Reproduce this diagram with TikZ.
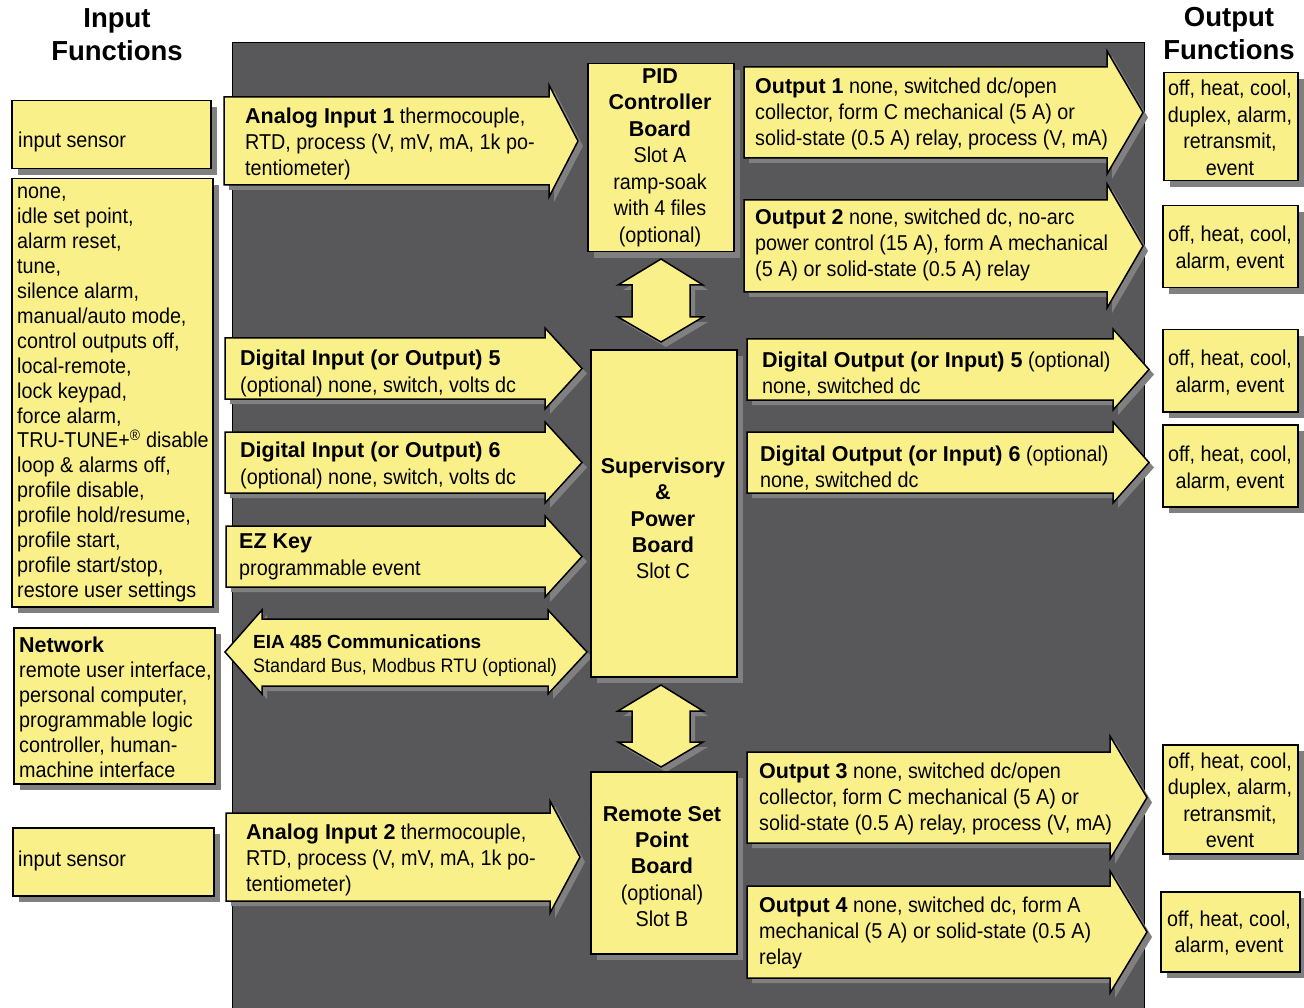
\documentclass[tikz,border=0pt]{standalone}
\usepackage{fontspec}
\setmainfont{Liberation Sans}
\newfontfamily\nar{Liberation Sans}[FakeStretch=0.92]
\usetikzlibrary{shadows}
\definecolor{yel}{RGB}{250,240,138}
\definecolor{panel}{RGB}{88,88,90}
\definecolor{shd}{RGB}{128,128,128}
\newcommand\bb[1]{{\normalfont\bfseries #1}}
\tikzset{
  box/.style={draw=black, fill=yel, line width=1.5pt, inner sep=0, anchor=north west,
    drop shadow={shadow xshift=6pt, shadow yshift=-6pt, fill=shd, opacity=1}},
  yshape/.style={draw=black, fill=yel, line width=1.5pt, line join=miter},
  lt/.style={inner sep=0, anchor=west, align=left, yshift=-2pt, font=\nar\fontsize{21.5}{26}\selectfont},
  ct/.style={inner sep=0, anchor=center, align=center, yshift=-2pt, font=\nar\fontsize{21.5}{26.5}\selectfont},
  hd/.style={inner sep=0, anchor=center, align=center, font=\bfseries\fontsize{27.5}{33}\selectfont}
}
% right arrow: left, top, bottom, base, ext, tip
\newcommand\RArr[6]{%
  \fill[shd, shift={(5,5)}] (#1,#2) -- (#4,#2) -- (#4,{#2-#5}) -- (#6,{(#2+#3)/2}) -- (#4,{#3+#5}) -- (#4,#3) -- (#1,#3) -- cycle;
  \filldraw[yshape] (#1,#2) -- (#4,#2) -- (#4,{#2-#5}) -- (#6,{(#2+#3)/2}) -- (#4,{#3+#5}) -- (#4,#3) -- (#1,#3) -- cycle;
}
% vertical double arrow: cx, toptip, base1, base2, bottomtip
\newcommand\VArr[5]{%
  \fill[shd, shift={(5,5)}] (#1,#2) -- ({#1+42},#3) -- ({#1+29},#3) -- ({#1+29},#4) -- ({#1+42},#4) -- (#1,#5) -- ({#1-43},#4) -- ({#1-29},#4) -- ({#1-29},#3) -- ({#1-43},#3) -- cycle;
  \filldraw[yshape] (#1,#2) -- ({#1+42},#3) -- ({#1+29},#3) -- ({#1+29},#4) -- ({#1+42},#4) -- (#1,#5) -- ({#1-43},#4) -- ({#1-29},#4) -- ({#1-29},#3) -- ({#1-43},#3) -- cycle;
}
\begin{document}
\begin{tikzpicture}[x=1pt, y=-1pt]
\useasboundingbox (0,0) rectangle (1304,1008);
\fill[white] (0,0) rectangle (1304,1008);

% headers
\node[hd] (hin) at (117,35) {Input\\Functions};
\node[hd] (hout) at (1229,34) {Output\\Functions};

% dark panel
\filldraw[fill=panel, draw=black, line width=1pt] (232,43) rectangle (1144,1015);

% left boxes
\node[box, minimum width=199, minimum height=68] (bin1) at (11,100) {};
\node[lt] (tin1) at (18,140) {input sensor};
\node[box, minimum width=201, minimum height=428] (blist) at (11,178) {};
\node[lt, font=\nar\fontsize{21.5}{24.95}\selectfont] (tlist) at (17,392.5) {none,\\idle set point,\\alarm reset,\\tune,\\silence alarm,\\manual/auto mode,\\control outputs off,\\local-remote,\\lock keypad,\\force alarm,\\TRU-TUNE+\textsuperscript{\textregistered} disable\\loop \& alarms off,\\profile disable,\\profile hold/resume,\\profile start,\\profile start/stop,\\restore user settings};
\node[box, minimum width=201, minimum height=156] (bnet) at (13,627) {};
\node[lt, font=\nar\fontsize{21.5}{25}\selectfont] (tnet) at (19,705.5) {\bb{Network}\\remote user interface,\\personal computer,\\programmable logic\\controller, human-\\machine interface};
\node[box, minimum width=201, minimum height=68] (bin2) at (12,827) {};
\node[lt] (tin2) at (18,859) {input sensor};

% left arrows
\RArr{224}{97}{185}{549}{12}{578}
\node[lt] (tai1) at (245,142) {\bb{Analog Input 1} thermocouple,\\RTD, process (V, mV, mA, 1k po-\\tentiometer)};
\RArr{225}{338}{399}{545}{10}{582}
\node[lt, font=\nar\fontsize{21.5}{27}\selectfont] (tdi5) at (240,371.5) {\bb{Digital Input (or Output) 5}\\(optional) none, switch, volts dc};
\RArr{225}{432}{493}{545}{10}{582}
\node[lt, font=\nar\fontsize{21.5}{27}\selectfont] (tdi6) at (240,463) {\bb{Digital Input (or Output) 6}\\(optional) none, switch, volts dc};
\RArr{226}{526}{587}{545}{10}{582}
\node[lt, font=\nar\fontsize{21.5}{27}\selectfont] (tez) at (239,555) {\bb{EZ Key}\\programmable event};
% EIA double arrow
\fill[shd, shift={(5,5)}] (225,652) -- (262,610) -- (262,619) -- (548,619) -- (548,610) -- (587,652) -- (548,694) -- (548,686) -- (262,686) -- (262,694) -- cycle;
\filldraw[yshape] (225,652) -- (262,610) -- (262,619) -- (548,619) -- (548,610) -- (587,652) -- (548,694) -- (548,686) -- (262,686) -- (262,694) -- cycle;
\node[lt, font=\nar\fontsize{19.5}{24}\selectfont] (teia) at (253,654) {{\fontsize{19}{24}\selectfont\bb{EIA 485 Communications}}\\Standard Bus, Modbus RTU (optional)};
\RArr{226}{813}{901}{550}{12}{580}
\node[lt] (tai2) at (246,858) {\bb{Analog Input 2} thermocouple,\\RTD, process (V, mV, mA, 1k po-\\tentiometer)};

% center boards
\node[box, minimum width=146, minimum height=188] (bpid) at (587,63) {};
\node[ct] (tpid) at (660,155.5) {\bb{PID}\\\bb{Controller}\\\bb{Board}\\Slot A\\ramp-soak\\with 4 files\\(optional)};
\VArr{661}{259}{285}{317}{342}
\node[box, minimum width=146, minimum height=327] (bsup) at (590,349) {};
\node[ct, font=\nar\fontsize{21.5}{26.25}\selectfont] (tsup) at (663,516.5) {\bb{Supervisory}\\\bb{\&}\\\bb{Power}\\\bb{Board}\\Slot C};
\VArr{661}{685}{711}{742}{767}
\node[box, minimum width=146, minimum height=182] (brsp) at (590,771) {};
\node[ct, font=\nar\fontsize{21.5}{26.25}\selectfont] (trsp) at (662,864.5) {\bb{Remote Set}\\\bb{Point}\\\bb{Board}\\(optional)\\Slot B};

% right arrows
\RArr{744}{67}{158}{1107}{16}{1143}
\node[lt] (to1) at (755,112) {\bb{Output 1} none, switched dc/open\\collector, form C mechanical (5 A) or\\solid-state (0.5 A) relay, process (V, mA)};
\RArr{744}{200}{292}{1107}{16}{1143}
\node[lt] (to2) at (755,243) {\bb{Output 2} none, switched dc, no-arc\\power control (15 A), form A mechanical\\(5 A) or solid-state (0.5 A) relay};
\RArr{747}{339}{400}{1113}{10}{1149}
\node[lt] (tdo5) at (762,372.5) {\bb{Digital Output (or Input) 5} (optional)\\none, switched dc};
\RArr{747}{432}{493}{1113}{10}{1149}
\node[lt] (tdo6) at (760,466) {\bb{Digital Output (or Input) 6} (optional)\\none, switched dc};
\RArr{747}{752}{843}{1110}{16}{1147}
\node[lt] (to3) at (759,797) {\bb{Output 3} none, switched dc/open\\collector, form C mechanical (5 A) or\\solid-state (0.5 A) relay, process (V, mA)};
\RArr{747}{886}{978}{1110}{15}{1147}
\node[lt] (to4) at (759,931) {\bb{Output 4} none, switched dc, form A\\mechanical (5 A) or solid-state (0.5 A)\\relay};

% right boxes
\node[box, minimum width=134, minimum height=108] (br1) at (1163,72) {};
\node[ct] (tr1) at (1230,126) {off, heat, cool,\\duplex, alarm,\\retransmit,\\event};
\node[box, minimum width=135, minimum height=82] (br2) at (1162,205) {};
\node[ct] (tr2) at (1230,246.5) {off, heat, cool,\\alarm, event};
\node[box, minimum width=135, minimum height=82] (br3) at (1162,329) {};
\node[ct] (tr3) at (1230,370.5) {off, heat, cool,\\alarm, event};
\node[box, minimum width=135, minimum height=82] (br4) at (1162,424) {};
\node[ct] (tr4) at (1230,466.5) {off, heat, cool,\\alarm, event};
\node[box, minimum width=135, minimum height=109] (br5) at (1162,744) {};
\node[ct] (tr5) at (1230,798.5) {off, heat, cool,\\duplex, alarm,\\retransmit,\\event};
\node[box, minimum width=139, minimum height=80] (br6) at (1160,891) {};
\node[ct] (tr6) at (1229,931) {off, heat, cool,\\alarm, event};
\end{tikzpicture}
\end{document}
